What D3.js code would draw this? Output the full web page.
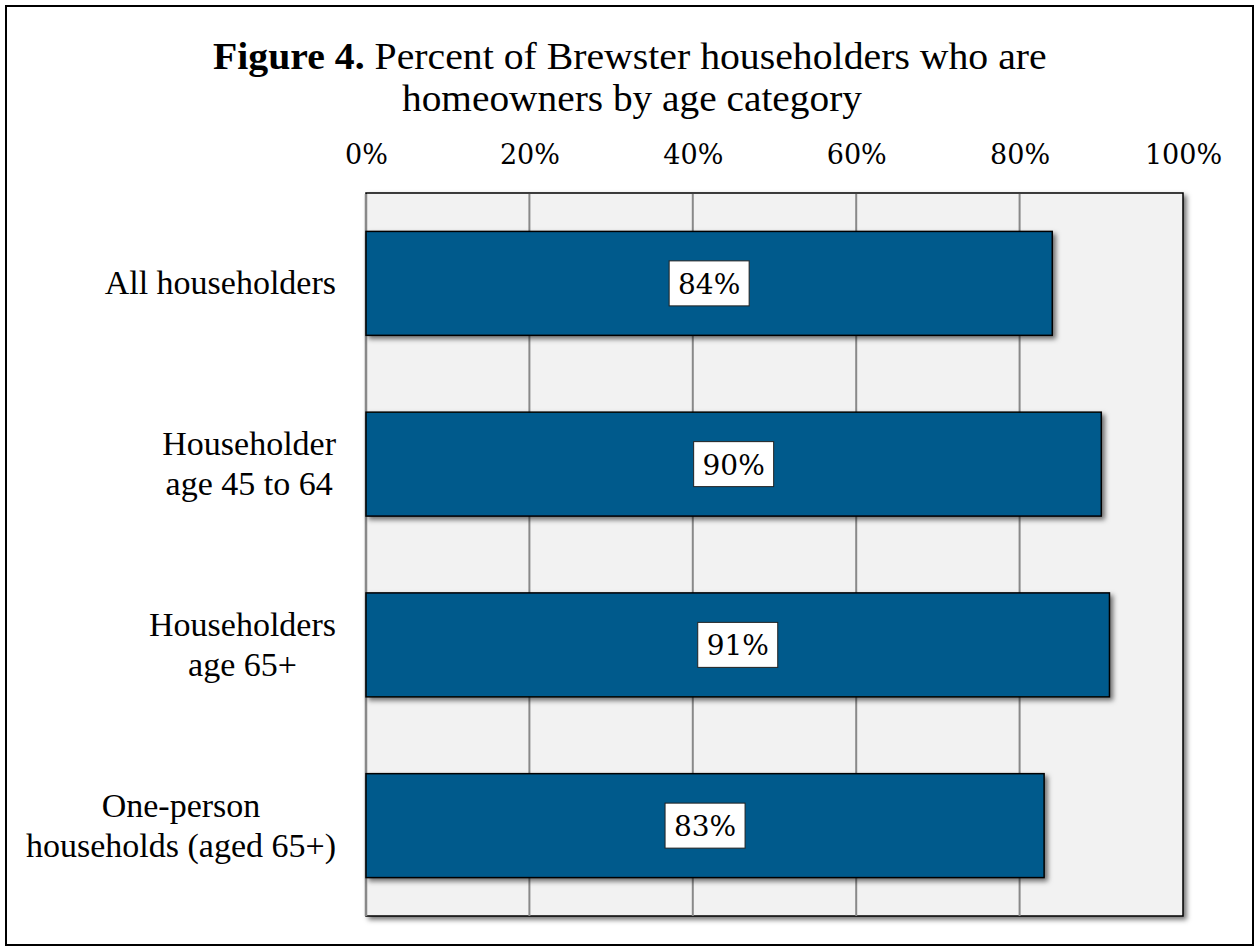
<!DOCTYPE html>
<html>
<head>
<meta charset="utf-8">
<script src="https://cdn.jsdelivr.net/npm/d3@7"></script>
<style>
  html, body { margin: 0; padding: 0; background: #fff; }
  svg { display: block; }
</style>
</head>
<body>
<svg id="chart" width="1255" height="947"></svg>
<script>
// Homeownership share by householder age group
const categories = [
  ["All householders"],
  ["Householder", "age 45 to 64"],
  ["Householders", "age 65+"],
  ["One-person", "households (aged 65+)"]
];
const values = [84, 90, 91, 83];
const tickValues = [0, 20, 40, 60, 80, 100];
const titleBold = "Figure 4.";
const titleRest = " Percent of Brewster householders who are";
const titleLine2 = "homeowners by age category";

const W = 1255, H = 947;
const plot = { left: 366, right: 1183, top: 193, bottom: 916 };
const serif = "'Liberation Serif', 'Times New Roman', serif";
const numFont = "'DejaVu Serif', serif";

const svg = d3.select("#chart");

// drop shadows
const defs = svg.append("defs");
const sh = defs.append("filter").attr("id", "shadow")
  .attr("x", "-10%").attr("y", "-10%").attr("width", "130%").attr("height", "130%");
sh.append("feDropShadow").attr("dx", 3).attr("dy", 3).attr("stdDeviation", 2.5)
  .attr("flood-color", "#000").attr("flood-opacity", 0.55);

// outer frame
svg.append("rect").attr("x", 6).attr("y", 6).attr("width", 1247).attr("height", 939)
  .attr("fill", "#fff").attr("stroke", "#000").attr("stroke-width", 2);

const x = d3.scaleLinear().domain([0, 100]).range([plot.left, plot.right]);
const y = d3.scaleBand().domain(d3.range(categories.length))
  .range([plot.top, plot.bottom]).paddingInner(0.425).paddingOuter(0.2125);

// plot area
svg.append("rect")
  .attr("x", plot.left).attr("y", plot.top)
  .attr("width", plot.right - plot.left).attr("height", plot.bottom - plot.top)
  .attr("fill", "#f2f2f2").attr("stroke", "#000").attr("stroke-width", 1.5)
  .attr("filter", "url(#shadow)");
svg.append("line")
  .attr("x1", plot.left).attr("x2", plot.left)
  .attr("y1", plot.top + 1).attr("y2", plot.bottom)
  .attr("stroke", "#898989").attr("stroke-width", 2.5);

// vertical gridlines
svg.append("g").selectAll("line")
  .data(tickValues.filter(d => d > 0 && d < 100))
  .join("line")
  .attr("x1", d => x(d)).attr("x2", d => x(d))
  .attr("y1", plot.top + 1).attr("y2", plot.bottom)
  .attr("stroke", "#898989").attr("stroke-width", 2);

// top axis labels
const xAxis = d3.axisTop(x).tickValues(tickValues).tickFormat(d => d + "%").tickSize(0).tickPadding(0);
const ax = svg.append("g").attr("transform", `translate(0,164)`).call(xAxis);
ax.select(".domain").remove();
ax.selectAll("text")
  .attr("dy", 0)
  .attr("font-family", numFont).attr("font-size", 27).attr("fill", "#000");

// bars
svg.append("g").selectAll("rect")
  .data(values)
  .join("rect")
  .attr("x", x(0))
  .attr("y", (d, i) => y(i))
  .attr("width", d => x(d) - x(0))
  .attr("height", y.bandwidth())
  .attr("fill", "#005a8c")
  .attr("stroke", "#000").attr("stroke-width", 1.5)
  .attr("filter", "url(#shadow)");

// value labels
const lab = svg.append("g").selectAll("g")
  .data(values)
  .join("g")
  .attr("transform", (d, i) => `translate(${(x(0) + x(d)) / 2},${y(i) + y.bandwidth() / 2})`);
lab.append("rect")
  .attr("x", -40).attr("y", -22.5).attr("width", 80).attr("height", 45)
  .attr("fill", "#fff").attr("stroke", "#222").attr("stroke-width", 1);
lab.append("text")
  .attr("text-anchor", "middle").attr("y", 10.5)
  .attr("font-family", numFont).attr("font-size", 28).attr("fill", "#000")
  .text(d => d + "%");

// category labels (lines centred within a right-aligned block)
const catG = svg.append("g");
categories.forEach((lines, i) => {
  const cy = y(i) + y.bandwidth() / 2;
  const g = catG.append("g");
  const n = lines.length;
  const texts = lines.map((s, k) => g.append("text")
    .attr("y", cy + 11 + (k - (n - 1) / 2) * 40)
    .attr("font-family", serif).attr("font-size", 34).attr("fill", "#000")
    .attr("text-anchor", "middle")
    .text(s));
  const maxW = d3.max(texts, t => t.node().getComputedTextLength());
  texts.forEach(t => t.attr("x", 336 - maxW / 2));
});

// title, squeezed horizontally to its column
function fitText(sel, x0, x1) {
  const w = sel.node().getComputedTextLength();
  const s = (x1 - x0) / w;
  sel.attr("text-anchor", "start").attr("x", 0)
    .attr("transform", `translate(${x0},0) scale(${s},1)`);
}
const t1 = svg.append("text").attr("y", 69)
  .attr("font-family", serif).attr("font-size", 37).attr("fill", "#000");
t1.append("tspan").attr("font-weight", "bold").text(titleBold);
t1.append("tspan").text(titleRest);
fitText(t1, 213, 1047);
const t2 = svg.append("text").attr("y", 111)
  .attr("font-family", serif).attr("font-size", 37).attr("fill", "#000")
  .text(titleLine2);
fitText(t2, 402, 862);
</script>
</body>
</html>
